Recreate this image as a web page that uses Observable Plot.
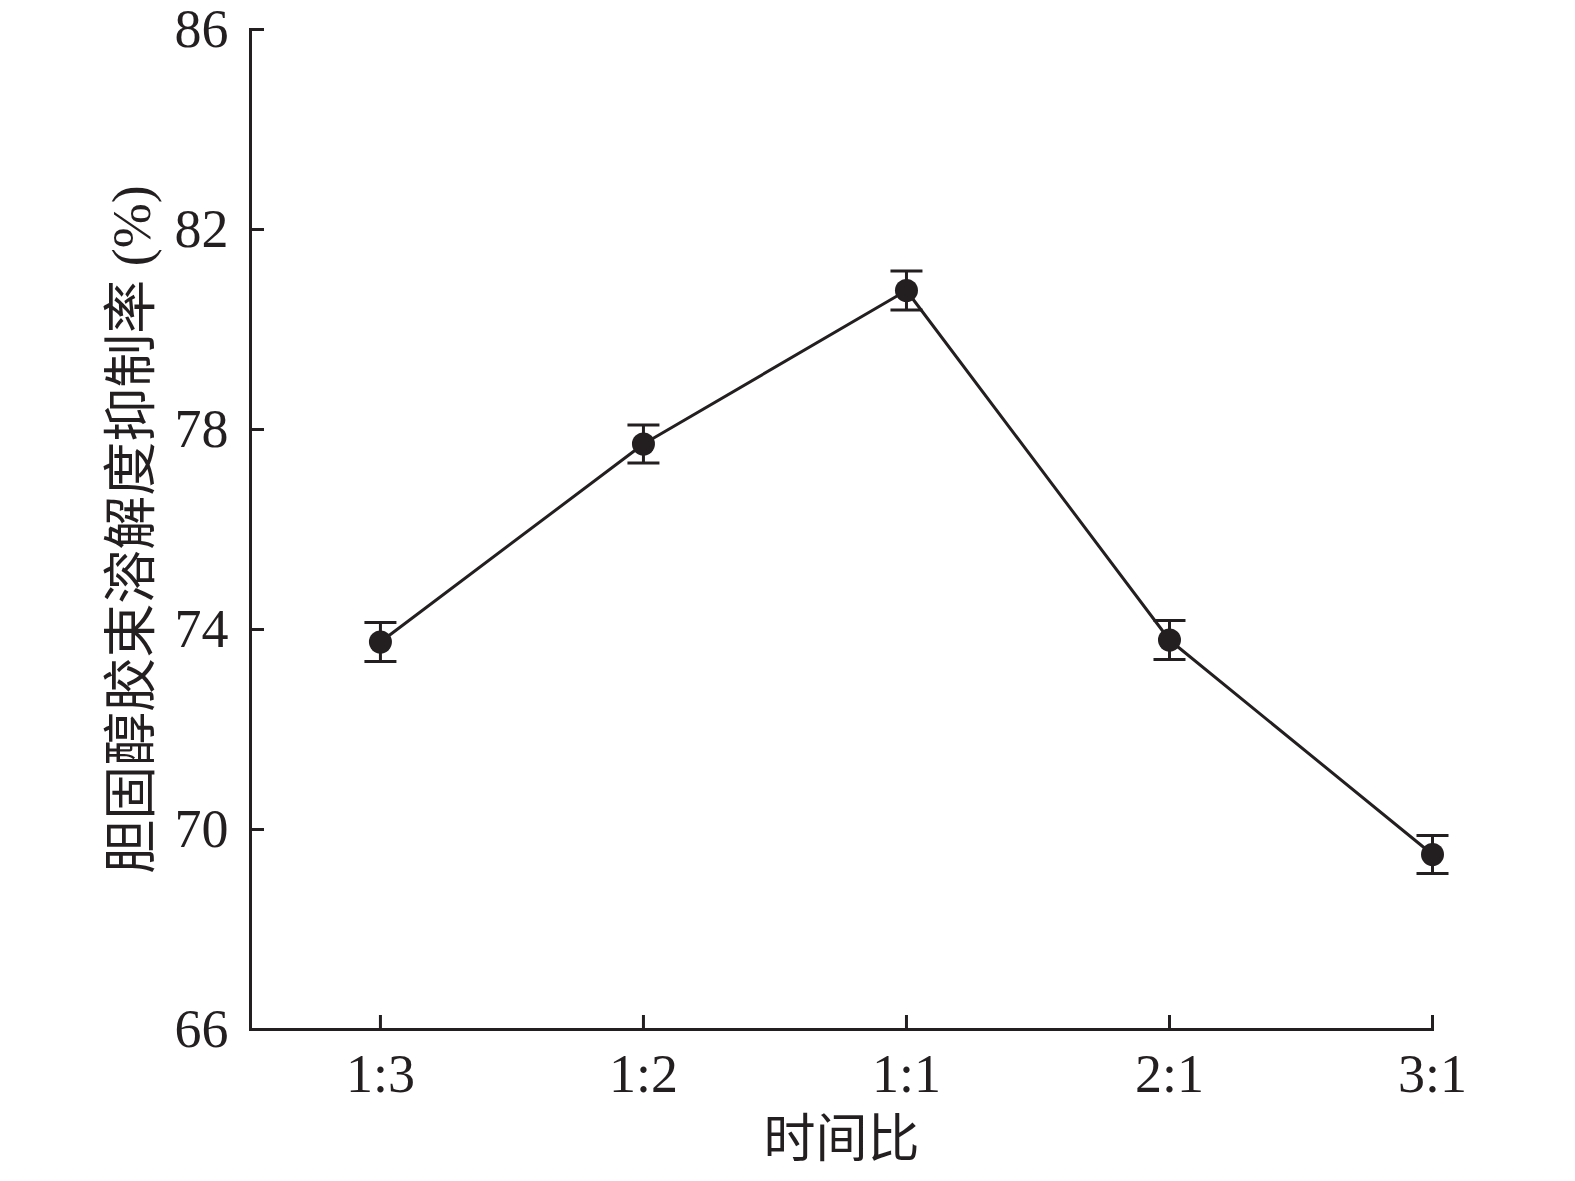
<!DOCTYPE html>
<html>
<head>
<meta charset="utf-8">
<script src="https://cdn.jsdelivr.net/npm/d3@7"></script>
<script src="https://cdn.jsdelivr.net/npm/@observablehq/plot@0.6"></script>
<style>
  html, body { margin: 0; padding: 0; background: #fff; }
</style>
</head>
<body>
<div id="chart"></div>
<script>
const categories = ["1:3", "1:2", "1:1", "2:1", "3:1"];
const values = [73.75, 77.71, 80.78, 73.79, 69.50];
const errors = [0.39, 0.38, 0.39, 0.39, 0.38];
const yTicks = [66, 70, 74, 78, 82, 86];
const xTitle = "时间比";
const yTitle = "胆固醇胶束溶解度抑制率 (%)";

const data = categories.map((c, i) => ({i, cat: c, v: values[i], e: errors[i]}));
const ink = "#231f20";
const font = "'Liberation Serif', 'Times New Roman', 'Noto Sans CJK SC', serif";

// horizontal cap symbol for error bars
const capSymbol = {
  draw(context) {
    context.moveTo(-16, 0);
    context.lineTo(16, 0);
  }
};

const chart = Plot.plot({
  width: 1575,
  height: 1181,
  marginTop: 29,
  marginLeft: 250,
  marginRight: 143,
  marginBottom: 152,
  style: {fontFamily: font, fontSize: "54px", color: ink, background: "#fff"},
  x: {domain: [-0.494, 4]},
  y: {domain: [66, 86]},
  marks: [
    Plot.frame({anchor: "left", stroke: ink, strokeWidth: 3}),
    Plot.frame({anchor: "bottom", stroke: ink, strokeWidth: 3}),
    Plot.axisY({ticks: yTicks, tickSize: -14, tickPadding: 36, strokeWidth: 3, stroke: ink, fill: ink, fontSize: 54, label: null}),
    Plot.axisX({ticks: d3.range(categories.length), tickFormat: i => categories[i], tickSize: -14, tickPadding: 38, strokeWidth: 3, stroke: ink, fill: ink, fontSize: 54, label: null}),
    Plot.text([xTitle], {frameAnchor: "bottom", dy: 111, lineAnchor: "middle", textAnchor: "middle", fontSize: 52, fill: ink, fontFamily: "'Noto Sans CJK SC', sans-serif"}),
    Plot.text([yTitle], {frameAnchor: "left", dx: -118, rotate: -90, lineAnchor: "middle", textAnchor: "middle", fontSize: 54, fill: ink, fontFamily: "'Liberation Serif', 'Noto Sans CJK SC', serif"}),
    Plot.line(data, {x: "i", y: "v", stroke: ink, strokeWidth: 3}),
    Plot.ruleX(data, {x: "i", y1: d => d.v - d.e, y2: d => d.v + d.e, stroke: ink, strokeWidth: 3}),
    Plot.dot(data, {x: "i", y: d => d.v + d.e, symbol: capSymbol, stroke: ink, strokeWidth: 3, fill: "none"}),
    Plot.dot(data, {x: "i", y: d => d.v - d.e, symbol: capSymbol, stroke: ink, strokeWidth: 3, fill: "none"}),
    Plot.dot(data, {x: "i", y: "v", r: 11.5, fill: ink, stroke: null})
  ]
});
document.getElementById("chart").appendChild(chart);
</script>
</body>
</html>
